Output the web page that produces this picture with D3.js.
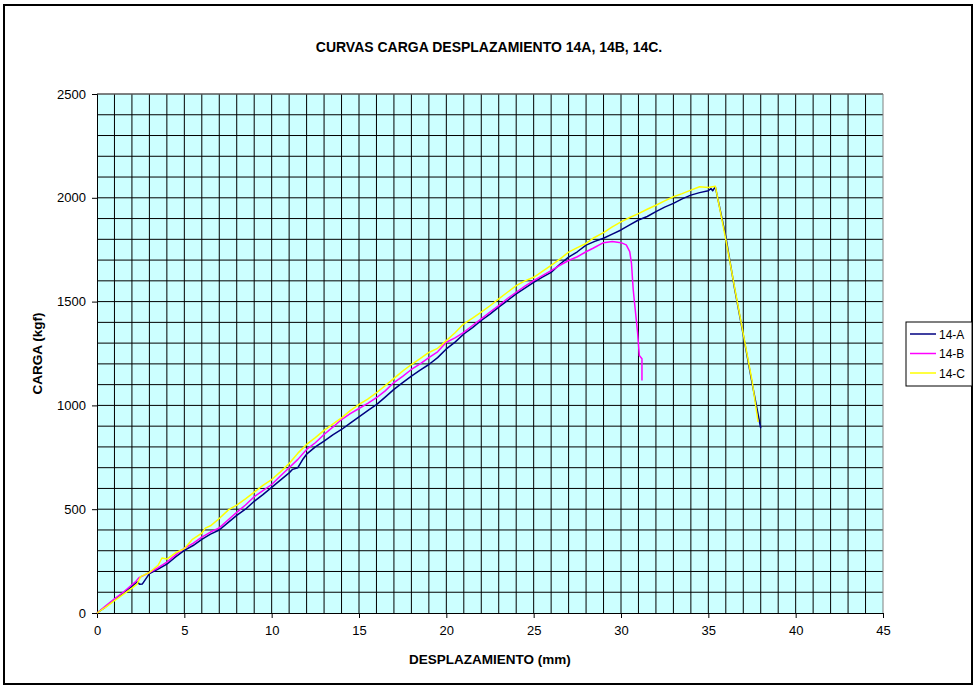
<!DOCTYPE html>
<html lang="es">
<head>
    <meta charset="UTF-8">
    <title>Curvas carga desplazamiento</title>
    <script src="https://d3js.org/d3.v7.min.js"></script>
    <style>
        body { margin: 0; background: #fff; }
        text { font-family: "Liberation Sans", Arial, sans-serif; }
    </style>
</head>
<body>
    <div id="chart"></div>
    <script>
        // series: [desplazamiento mm, carga kgf]
        var serie14A = [[0,0],[0.5,30],[1,64],[1.5,95],[2,128],[2.3,150],[2.45,138],[2.6,140],[3,190],[3.5,212],[4,235],[4.5,270],[5,302],[5.5,325],[6,355],[6.5,380],[7,400],[7.5,435],[8,470],[8.5,500],[9,538],[9.5,570],[10,605],[10.5,640],[11,675],[11.2,692],[11.5,700],[11.8,742],[12,765],[12.5,800],[13,828],[13.5,858],[14,884],[14.5,915],[15,945],[15.5,975],[16,1004],[16.5,1040],[17,1077],[17.5,1110],[18,1141],[18.5,1170],[19,1197],[19.5,1230],[20,1272],[20.5,1305],[21,1344],[21.5,1375],[22,1409],[22.5,1440],[23,1473],[23.5,1505],[24,1537],[24.5,1565],[25,1593],[25.5,1618],[26,1641],[26.5,1680],[27,1714],[27.5,1740],[28,1772],[28.5,1790],[29,1805],[29.5,1825],[30,1845],[30.5,1870],[31,1893],[31.5,1910],[32,1933],[32.5,1955],[33,1973],[33.5,1995],[34,2013],[34.5,2025],[35,2034],[35.15,2045],[35.25,2034],[35.4,2053],[35.6,1973],[36,1813],[36.5,1564],[37,1340],[37.5,1110],[38,890]];
        var serie14B = [[0,0],[0.5,35],[1,68],[1.5,100],[2,136],[2.2,150],[2.4,170],[2.6,178],[3,195],[3.5,218],[4,245],[4.5,280],[5,312],[5.5,335],[6,365],[6.5,390],[7,410],[7.5,448],[8,485],[8.5,520],[9,560],[9.5,590],[10,619],[10.5,660],[11,700],[11.5,740],[12,788],[12.5,820],[13,860],[13.5,895],[14,932],[14.5,960],[15,985],[15.5,1010],[16,1037],[16.5,1070],[17,1110],[17.5,1140],[18,1173],[18.5,1200],[19,1230],[19.5,1258],[20,1304],[20.5,1325],[21,1352],[21.5,1385],[22,1417],[22.5,1450],[23,1481],[23.5,1515],[24,1545],[24.5,1575],[25,1601],[25.5,1625],[26,1649],[26.5,1675],[27,1698],[27.5,1716],[28,1740],[28.4,1757],[29,1784],[29.5,1789],[30,1784],[30.3,1773],[30.5,1741],[30.6,1684],[30.7,1557],[30.95,1350],[31.05,1240],[31.2,1225],[31.2,1120]];
        var serie14C = [[0,0],[0.5,28],[1,60],[1.5,90],[2,120],[2.3,140],[2.5,175],[3,195],[3.5,230],[3.72,265],[4,260],[4.5,290],[5,310],[5.44,353],[6,385],[6.2,409],[6.5,420],[7,455],[7.54,498],[8,520],[8.5,550],[9.06,586],[9.5,615],[10,643],[10.5,680],[11,720],[11.5,770],[12,812],[12.5,845],[13,880],[13.5,910],[14,940],[14.5,975],[15,1005],[15.5,1030],[16,1061],[16.5,1095],[17,1130],[17.5,1165],[18,1197],[18.5,1225],[19,1255],[19.5,1275],[20,1312],[20.5,1350],[21,1393],[21.5,1420],[22,1449],[22.5,1480],[23,1513],[23.5,1545],[24,1577],[24.5,1600],[25,1617],[25.5,1645],[26,1674],[26.5,1705],[27,1738],[27.5,1760],[28,1780],[28.4,1805],[29,1832],[29.5,1860],[30,1884],[30.5,1905],[31,1924],[31.5,1945],[32,1964],[32.5,1985],[33,2005],[33.5,2020],[34,2037],[34.5,2053],[35,2050],[35.4,2056],[36,1800],[36.5,1570],[37,1345],[37.5,1120],[37.85,920]];

        var seriesNames = ["14-A", "14-B", "14-C"];
        var seriesColors = ["#000080", "#FF00FF", "#FFFF00"];
        var xTicks = [0, 5, 10, 15, 20, 25, 30, 35, 40, 45];
        var yTicks = [0, 500, 1000, 1500, 2000, 2500];

        var W = 977, H = 689;
        var margin = { top: 94, right: 94, bottom: 76, left: 97 };
        var width = W - margin.left - margin.right;
        var height = H - margin.top - margin.bottom;

        var svgRoot = d3.select("#chart")
            .append("svg")
            .attr("width", W)
            .attr("height", H);

        // outer frame
        svgRoot.append("rect")
            .attr("x", 4).attr("y", 5)
            .attr("width", 968).attr("height", 679)
            .attr("fill", "#fff")
            .attr("stroke", "#000")
            .attr("stroke-width", 2);

        svgRoot.append("text")
            .attr("x", 489).attr("y", 52)
            .attr("text-anchor", "middle")
            .style("font-size", "14px")
            .style("font-weight", "bold")
            .text("CURVAS CARGA DESPLAZAMIENTO 14A, 14B, 14C.");

        var svg = svgRoot.append("g")
            .attr("transform", "translate(" + margin.left + "," + margin.top + ")");

        var x = d3.scaleLinear().domain([0, 45]).range([0, width]);
        var y = d3.scaleLinear().domain([0, 2500]).range([height, 0]);

        svg.append("rect")
            .attr("width", width).attr("height", height)
            .attr("fill", "#CCFFFF");

        // grid
        svg.append("g").selectAll("line")
            .data(d3.range(1, 45))
            .enter().append("line")
            .attr("x1", function (d) { return x(d); })
            .attr("x2", function (d) { return x(d); })
            .attr("y1", 0).attr("y2", height)
            .attr("stroke", "#000").attr("stroke-width", 1);
        svg.append("g").selectAll("line")
            .data(d3.range(100, 2600, 100))
            .enter().append("line")
            .attr("y1", function (d) { return y(d); })
            .attr("y2", function (d) { return y(d); })
            .attr("x1", 0).attr("x2", width)
            .attr("stroke", "#000").attr("stroke-width", 1);

        // plot border right / top
        svg.append("path")
            .attr("d", "M0,0H" + width + "V" + height)
            .attr("fill", "none")
            .attr("stroke", "#808080");

        var xAxis = svg.append("g")
            .attr("transform", "translate(0," + height + ")")
            .call(d3.axisBottom(x).tickValues(xTicks).tickFormat(d3.format("d")).tickSize(5).tickPadding(8));
        var yAxis = svg.append("g")
            .call(d3.axisLeft(y).tickValues(yTicks).tickFormat(d3.format("d")).tickSize(5).tickPadding(6));
        [xAxis, yAxis].forEach(function (a) {
            a.select(".domain").attr("stroke", "#000");
            a.selectAll("text")
                .style("font-family", "'Liberation Sans', Arial, sans-serif")
                .style("font-size", "13px")
                .attr("fill", "#000");
        });

        svgRoot.append("text")
            .attr("x", 490).attr("y", 664)
            .attr("text-anchor", "middle")
            .style("font-size", "13.5px")
            .style("font-weight", "bold")
            .text("DESPLAZAMIENTO (mm)");

        svgRoot.append("text")
            .attr("transform", "translate(42," + (margin.top + height / 2) + ") rotate(-90)")
            .attr("text-anchor", "middle")
            .style("font-size", "13.5px")
            .style("font-weight", "bold")
            .text("CARGA (kgf)");

        var line = d3.line()
            .x(function (d) { return x(d[0]); })
            .y(function (d) { return y(d[1]); });

        var allSeries = [serie14A, serie14B, serie14C];
        svg.append("g").selectAll("path")
            .data(allSeries)
            .enter().append("path")
            .attr("d", line)
            .attr("fill", "none")
            .attr("stroke", function (d, i) { return seriesColors[i]; })
            .attr("stroke-width", 1.5)
            .attr("stroke-linejoin", "round");

        // legend
        var legend = svgRoot.append("g").attr("transform", "translate(906,322)");
        legend.append("rect")
            .attr("width", 66).attr("height", 64)
            .attr("fill", "#fff").attr("stroke", "#000");
        var items = legend.selectAll(".item")
            .data(seriesNames)
            .enter().append("g")
            .attr("transform", function (d, i) { return "translate(0," + (12 + i * 19.5) + ")"; });
        items.append("line")
            .attr("x1", 4).attr("x2", 30)
            .attr("stroke", function (d, i) { return seriesColors[i]; })
            .attr("stroke-width", 1.5);
        items.append("text")
            .attr("x", 33).attr("y", 4.5)
            .style("font-size", "12px")
            .text(function (d) { return d; });
    </script>
</body>
</html>
